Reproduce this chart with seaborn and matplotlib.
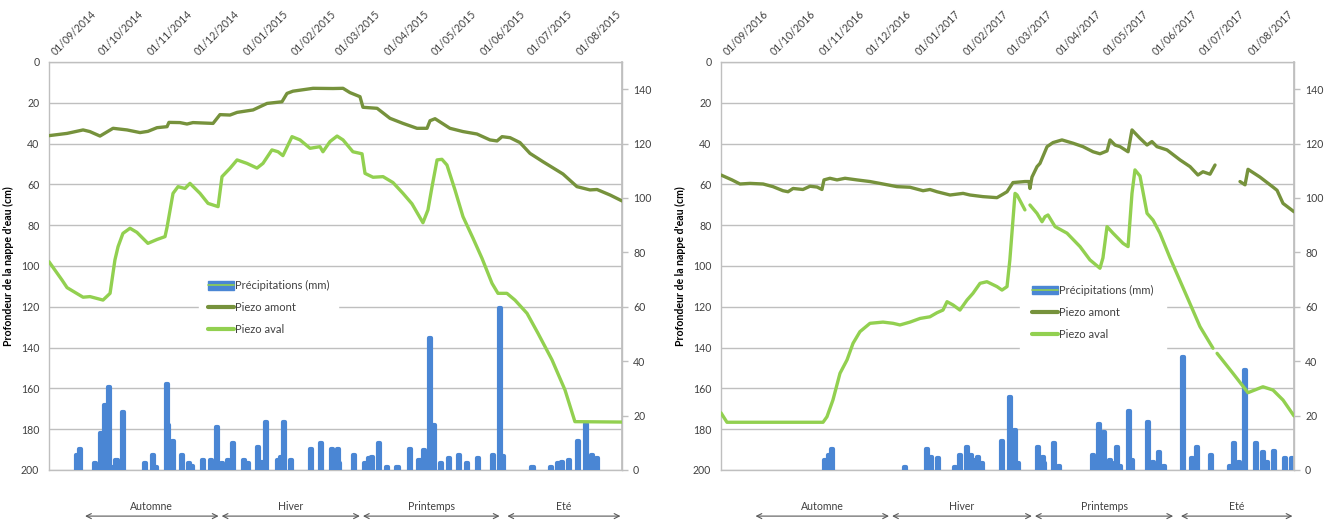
import numpy as np
import pandas as pd
import matplotlib
matplotlib.use("Agg")
import matplotlib.pyplot as plt
import matplotlib.dates as mdates
import matplotlib.transforms as mtransforms
from matplotlib.patches import Patch
from matplotlib.lines import Line2D
from matplotlib.legend_handler import HandlerTuple
import seaborn as sns

# ---------------------------------------------------------------- data
# Month labels (top axis) for each hydrological year
months_1 = ["01/09/2014", "01/10/2014", "01/11/2014", "01/12/2014", "01/01/2015", "01/02/2015",
            "01/03/2015", "01/04/2015", "01/05/2015", "01/06/2015", "01/07/2015", "01/08/2015"]
months_2 = ["01/09/2016", "01/10/2016", "01/11/2016", "01/12/2016", "01/01/2017", "01/02/2017",
            "01/03/2017", "01/04/2017", "01/05/2017", "01/06/2017", "01/07/2017", "01/08/2017"]

# Water table depth (cm), days counted from 1 September; NaN = missing readings
amont_1_days = [0, 11.5, 21.7, 26, 32.5, 40.8, 49.7, 58, 63, 68.8, 75.2, 76.4, 83.4, 87.9, 91.7,
                104.5, 108.9, 115.3, 119.8, 130, 138.9, 148.4, 151.6, 155.4, 168.2, 180.9, 187.3,
                191.7, 198.1, 200, 209, 217.2, 225.5, 234.4, 240.8, 242.7, 245.9, 255.4, 263.7,
                272.6, 280.9, 285.4, 288.6, 293.7, 300, 306.4, 314.7, 327.4, 336.3, 344.6, 349.1,
                357.4, 365]
amont_1_cm = [36.1, 35, 33.3, 34.1, 36.3, 32.5, 33.3, 34.6, 34, 32.2, 31.7, 29.6, 29.7, 30.4, 29.7,
              30.1, 25.8, 26, 24.7, 23.5, 20.3, 19.5, 15.4, 14.3, 12.9, 13, 12.9, 15, 17, 22.2,
              22.7, 27.6, 30.1, 32.5, 32.5, 28.8, 27.8, 32.5, 34.1, 35.3, 38.2, 38.7, 36.6, 37.1,
              39.5, 44.8, 48.9, 54.9, 61.1, 62.7, 62.5, 65.2, 68.1]

aval_1_days = [0, 8.3, 11.5, 21.7, 26.1, 34.4, 38.9, 42, 44, 47.1, 51.6, 56, 63, 68.8, 73.9, 75.2,
               79, 82.2, 86.6, 89.8, 96.2, 101.3, 107.7, 110.2, 115.3, 119.8, 126.1, 132.5, 136.3,
               142, 145.9, 149, 154.8, 159.9, 166.3, 172.6, 174.5, 179, 183.5, 187.3, 193.6, 199.4,
               201.3, 206.4, 212.8, 219.1, 225.5, 231.2, 238.2, 241.4, 244, 247.2, 250.3, 253.5,
               258.6, 263.7, 270.1, 275.8, 282.2, 286, 291.7, 296.8, 304.5, 311.5, 320.4, 328.7,
               335, 365]
aval_1_cm = [97.9, 106.9, 110.6, 115.3, 115, 116.7, 113.4, 97, 90.5, 84, 81.5, 83.5, 88.9, 87,
             85.6, 81, 64.4, 61.1, 62, 59.5, 64.4, 69.3, 70.9, 56.2, 52.1, 48, 49.7, 52, 49.7,
             43.1, 44, 45.9, 36.6, 38.2, 42.3, 41.5, 44, 39, 36.3, 38.2, 44, 45, 54.6, 56.5, 56.2,
             59.1, 64.4, 69.5, 78.8, 72.5, 61.1, 48, 47.7, 50.5, 62.7, 75.8, 86.4, 96.2, 108.5,
             113.4, 113.4, 116.7, 123.2, 133, 146, 160.8, 176.3, 176.5]

amont_2_days = [0, 7, 12.1, 18.5, 26.8, 33.1, 39.5, 42.7, 45.9, 52.2, 56.7, 61.2, 64.3, 65.6, 69.4,
                73.9, 79, 86.6, 94.9, 103.2, 112.1, 120.4, 128.7, 133.1, 137.6, 145.9, 154.2,
                158.6, 166.9, 175.8, 179.6, 182.2, 186, 193.6, 196.2, 196.8, 198.1, 201.3, 203.2,
                207.7, 211.5, 217.2, 224.2, 230.6, 237, 241.4, 245.9, 247.8, 251, 254.2, 259.3,
                261.8, 266.9, 271.4, 274.5, 277.7, 284.1, 292.4, 298.8, 303.8, 307, 311.5, 314.7,
                322, 330.6, 333.8, 335.7, 343.3, 351.6, 354.2, 358, 365]
amont_2_cm = [55.4, 57.8, 59.8, 59.5, 59.8, 61.1, 63.1, 63.6, 62, 62.5, 60.9, 61.3, 62.5, 57.8, 57,
              57.8, 57, 57.8, 58.6, 59.8, 61.1, 61.4, 63.1, 62.5, 63.6, 65.2, 64.4, 65.2, 66, 66.5,
              64.8, 63.6, 59.1, 58.6, 58.6, 62, 56.4, 51.3, 49.7, 41.5, 39.5, 38.2, 39.8, 41.5, 44,
              45, 43.6, 38.2, 40.7, 41.5, 44, 33.3, 37.4, 40.7, 39, 41.5, 43.1, 48, 51.3, 55.4,
              53.8, 55, 50.5, np.nan, 58.6, 60.2, 52.6, 56.4, 61.3, 62.9, 69.3, 73.4]

aval_2_days = [0, 3.8, 65, 67.5, 71.3, 75.8, 80.3, 84.1, 88.5, 94.9, 103.2, 109.6, 114, 120.4,
               126.8, 133.1, 137.6, 141.4, 144, 147.8, 152.2, 156.7, 160.5, 165, 169.4, 175.8, 179,
               182.2, 184, 187.3, 188.6, 193.6, 195, 196.8, 201.3, 204.5, 206.4, 208.3, 212.8,
               220.4, 228.7, 235, 241.4, 243.3, 245.9, 249.7, 256.1, 259.3, 261.8, 263.7, 266.9,
               271.4, 275.2, 279.6, 286, 296.8, 305.1, 313.4, 314.7, 316, 326.1, 335.7, 345.2,
               351.6, 358, 365]
aval_2_cm = [172, 176.6, 176.6, 173.9, 165.7, 152.6, 146, 137.9, 132.2, 128.1, 127.5, 128.1, 128.9,
             127.5, 125.7, 124.9, 122.9, 121.6, 117.5, 119.1, 121.6, 116.7, 113.4, 108.5, 107.7,
             110.1, 111.8, 110.1, 97, 64.4, 65.2, 72.5, np.nan, 70.1, 74.2, 78.3, 75.8, 75, 80.7,
             83.9, 90.5, 97, 101.1, 96, 80.7, 83.9, 88.9, 90.5, 64.4, 52.9, 55.9, 74.2, 77.5,
             83.9, 96, 115, 129.7, 140.3, np.nan, 142.8, 152.6, 162.1, 159.2, 160.8, 165.7, 173.5]

# Daily rainfall (mm), days counted from 1 September
rain_1_days = [18, 20, 29, 33, 36, 38, 41, 43, 47, 61, 66, 68, 75, 76, 79, 85, 89, 91, 98, 103,
               107, 110, 114, 117, 124, 127, 133, 136, 138, 146, 148, 150, 154, 167, 173, 180, 184,
               185, 194, 201, 204, 206, 210, 215, 222, 230, 236, 239, 243, 245, 250, 255, 261, 266,
               273, 283, 287, 289, 308, 320, 324, 327, 331, 337, 342, 346, 349]
rain_1_mm = [5.5, 7.6, 2.7, 13.6, 24, 30.6, 1, 3.7, 21.4, 2.5, 5.5, 1, 31.6, 16.5, 10.8, 5.5, 2.5,
             1.5, 3.7, 3.8, 15.8, 2.5, 3.7, 9.9, 3.7, 2.5, 8.6, 3, 17.8, 3.8, 4.6, 17.8, 3.7, 7.6,
             10, 7.6, 7.6, 2.5, 5.5, 2.5, 4.5, 4.8, 9.8, 1, 1, 7.6, 3.5, 7.3, 48.5, 16.5, 2.5, 4.5,
             5.5, 2.5, 4.5, 5.5, 59.5, 5, 1, 1, 2.5, 3, 3.5, 10.8, 17, 5.5, 4.3]

rain_2_days = [66, 69, 71, 117, 131, 134, 138, 149, 152, 157, 159, 161, 164, 166, 179, 184, 187,
               189, 202, 205, 206, 212, 215, 237, 241, 244, 248, 251, 252, 254, 260, 262, 272, 275,
               279, 282, 294, 300, 303, 312, 324, 327, 330, 334, 341, 345, 348, 352, 359, 364]
rain_2_mm = [3.7, 5.5, 7.6, 1, 7.6, 4.6, 4.3, 1, 5.5, 8.3, 5.5, 3.7, 4.6, 2.5, 10.8, 27, 14.7, 2.5,
             8.6, 4.6, 2.5, 10, 1.5, 5.5, 17, 14, 3.7, 2.5, 8.6, 1.5, 21.8, 3.7, 17.8, 3, 6.7, 1.5,
             41.7, 4.3, 8.6, 5.5, 1.5, 10, 3, 36.8, 10, 6.7, 3, 7, 4.3, 4.3]

# Seasons shown under each chart (start, end)
season_names = ["Automne", "Hiver", "Printemps", "Eté"]
seasons_1 = [("2014-09-24", "2014-12-18"), ("2014-12-20", "2015-03-18"),
             ("2015-03-20", "2015-06-15"), ("2015-06-20", "2015-08-31")]
seasons_2 = [("2016-09-23", "2016-12-17"), ("2016-12-19", "2017-03-18"),
             ("2017-03-20", "2017-06-16"), ("2017-06-21", "2017-08-31")]

legend_labels = ["Précipitations (mm)", "Piezo amont", "Piezo aval"]
ylabel_text = "Profondeur de la nappe d'eau (cm)"
depth_ticks = [0, 20, 40, 60, 80, 100, 120, 140, 160, 180, 200]
rain_ticks = [0, 20, 40, 60, 80, 100, 120, 140]

# ---------------------------------------------------------------- style
sns.set_theme(style="white")
plt.rcParams["font.family"] = ["Lato", "DejaVu Sans"]

C_AMONT = "#76923C"
C_AVAL = "#92D050"
C_RAIN = "#4A86D4"
C_GRID = "#BFBFBF"
C_TEXT = "#404040"
FS = 7.6

fig = plt.figure(figsize=(13.35, 5.2), dpi=100)
fig.patch.set_facecolor("white")


def series_frame(start, days, values):
    days = np.asarray(days, dtype=float)
    values = np.asarray(values, dtype=float)
    seg = np.cumsum(np.isnan(values))
    df = pd.DataFrame({"date": start + pd.to_timedelta(days, unit="D"),
                       "cm": values, "seg": seg})
    return df.dropna()


def draw_panel(rect, months, amont, aval, rain, seasons, legend_anchor, legend_pad):
    month_dates = pd.to_datetime(months, dayfirst=True)
    start = month_dates[0]
    end = start + pd.DateOffset(years=1)

    # base axes: depth scale and grid
    ax = fig.add_axes(rect)
    ax.set_facecolor("white")
    ax.set_xlim(start, end)
    ax.set_ylim(200, 0)
    ax.set_yticks(depth_ticks)
    ax.grid(False)
    ax.yaxis.grid(True, color=C_GRID, lw=1.0)
    ax.xaxis.tick_top()
    ax.set_xticks(mdates.date2num(month_dates))
    ax.set_xticklabels(months, rotation=45, ha="left", va="bottom",
                       rotation_mode="anchor", fontsize=FS, color=C_TEXT)
    ax.tick_params(axis="x", length=0, pad=1)
    shift = mtransforms.ScaledTranslation(6 / 72, 2 / 72, fig.dpi_scale_trans)
    for lab in ax.get_xticklabels():
        lab.set_transform(lab.get_transform() + shift)
    ax.tick_params(axis="y", length=0, pad=7, labelsize=FS, labelcolor=C_TEXT)
    for s in ax.spines.values():
        s.set_color(C_GRID)
        s.set_linewidth(1.0)
    ax.set_ylabel(ylabel_text, fontsize=FS, fontweight="bold", color="black")
    ax.yaxis.set_label_coords(-0.061, 0.5)

    # rainfall bars on the secondary scale (rounded outline gives soft tops)
    axr = ax.twinx()
    axr.set_ylim(0, 150)
    axr.set_yticks(rain_ticks)
    rd = start + pd.to_timedelta(np.asarray(rain[0], dtype=float), unit="D")
    bars = axr.bar(rd, rain[1], width=1.3, color=C_RAIN, edgecolor=C_RAIN,
                   linewidth=3.0, zorder=2)
    for b in bars:
        b.set_joinstyle("round")
    axr.tick_params(axis="y", length=4, width=1, color=C_GRID, pad=4,
                    labelsize=FS, labelcolor=C_TEXT)
    for k, s in axr.spines.items():
        s.set_visible(k == "right")
        s.set_color(C_GRID)
    axr.grid(False)

    # piezometer lines on top, same depth scale as the base axes
    axl = ax.twinx()
    axl.set_ylim(200, 0)
    axl.set_xlim(start, end)
    axl.grid(False)
    axl.set_yticks([])
    for s in axl.spines.values():
        s.set_visible(False)

    dfa = series_frame(start, *amont)
    dfv = series_frame(start, *aval)
    sns.lineplot(data=dfa, x="date", y="cm", units="seg", estimator=None,
                 color=C_AMONT, lw=2.4, ax=axl, legend=False)
    sns.lineplot(data=dfv, x="date", y="cm", units="seg", estimator=None,
                 color=C_AVAL, lw=2.4, ax=axl, legend=False)
    axl.set_xlabel("")
    axl.set_ylabel("")
    axl.set_ylim(200, 0)
    axl.set_xlim(start, end)

    handles = [(Patch(facecolor=C_RAIN, edgecolor=C_RAIN),
                Line2D([], [], color=C_AVAL, lw=1.2)),
               Line2D([], [], color=C_AMONT, lw=3),
               Line2D([], [], color=C_AVAL, lw=3)]
    leg = axl.legend(handles, legend_labels,
                     handler_map={tuple: HandlerTuple(ndivide=1, pad=0)},
                     loc="upper left", bbox_to_anchor=legend_anchor, frameon=True,
                     fancybox=False, facecolor="white", edgecolor="white", framealpha=1,
                     fontsize=8, handlelength=2.3, handleheight=0.8, handletextpad=0.1,
                     labelspacing=1.0, borderpad=legend_pad, borderaxespad=0)
    for t in leg.get_texts():
        t.set_color(C_TEXT)

    # season arrows under the chart
    trans = mtransforms.blended_transform_factory(ax.transData, ax.transAxes)
    for name, (s0, s1) in zip(season_names, seasons):
        x0 = mdates.date2num(pd.Timestamp(s0))
        x1 = mdates.date2num(pd.Timestamp(s1))
        ax.annotate("", xy=(x1, -0.113), xytext=(x0, -0.113), xycoords=trans,
                    textcoords=trans, annotation_clip=False,
                    arrowprops=dict(arrowstyle="<->", color="#595959", lw=0.8,
                                    shrinkA=0, shrinkB=0, mutation_scale=9))
        ax.text((x0 + x1) / 2, -0.09, name, transform=trans, ha="center", va="center",
                fontsize=FS, color=C_TEXT, clip_on=False)


W, H = 1335, 520
draw_panel([49 / W, 50 / H, 573 / W, 408 / H], months_1,
           (amont_1_days, amont_1_cm), (aval_1_days, aval_1_cm),
           (rain_1_days, rain_1_mm), seasons_1, (0.262, 0.487), 0.8)
draw_panel([721 / W, 50 / H, 573 / W, 408 / H], months_2,
           (amont_2_days, amont_2_cm), (aval_2_days, aval_2_cm),
           (rain_2_days, rain_2_mm), seasons_2, (0.522, 0.484), 1.1)

fig.savefig("out.png", dpi=100, facecolor="white")
